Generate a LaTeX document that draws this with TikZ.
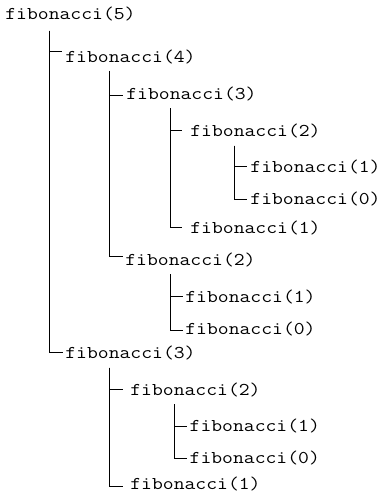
\documentclass[tikz,border=0pt]{standalone}
\usepackage{fontspec}
\newfontfamily\codefont[FakeStretch=1.17]{Latin Modern Mono}
\begin{document}
\begin{tikzpicture}[x=1bp,y=-1bp,
  call/.style={anchor=base west,inner sep=0pt,font=\fontsize{18bp}{20bp}\codefont},
  link/.style={draw=black,line width=0.9bp}]
\useasboundingbox (0,0) rectangle (383,494);

% call tree nodes
\node[call] (n5)    at (5.2,20)     {fibonacci(5)};
\node[call] (n4)    at (65.2,62.7)  {fibonacci(4)};
\node[call] (n43)   at (126.2,99.3) {fibonacci(3)};
\node[call] (n432)  at (190.2,136.7) {fibonacci(2)};
\node[call] (n4321) at (250.2,172.7) {fibonacci(1)};
\node[call] (n4320) at (250.2,204)  {fibonacci(0)};
\node[call] (n431)  at (190.2,233.3) {fibonacci(1)};
\node[call] (n42)   at (125.2,265)  {fibonacci(2)};
\node[call] (n421)  at (185.2,302.3) {fibonacci(1)};
\node[call] (n420)  at (185.2,334.3) {fibonacci(0)};
\node[call] (n3)    at (65.2,358.3) {fibonacci(3)};
\node[call] (n32)   at (130.2,395)  {fibonacci(2)};
\node[call] (n321)  at (189.5,431)  {fibonacci(1)};
\node[call] (n320)  at (189.5,463.3) {fibonacci(0)};
\node[call] (n31)   at (130.2,489.5) {fibonacci(1)};

% tops of the vertical branch lines
\coordinate (v5)   at (49.3,30.7);
\coordinate (v4)   at (109.3,71);
\coordinate (v43)  at (170,108.3);
\coordinate (v432) at (234.3,145.7);
\coordinate (v42)  at (170,274.3);
\coordinate (v3)   at (109.3,367.7);
\coordinate (v32)  at (174,404.3);

% ends of the horizontal ticks
\coordinate (t4)    at (61.7,51);
\coordinate (t3)    at (62.7,352.3);
\coordinate (t43)   at (123.3,95);
\coordinate (t42)   at (122.7,256);
\coordinate (t432)  at (181.7,130.7);
\coordinate (t431)  at (181.7,227.7);
\coordinate (t4321) at (246.7,166.7);
\coordinate (t4320) at (246.7,199.3);
\coordinate (t421)  at (182.7,296.7);
\coordinate (t420)  at (182.7,330);
\coordinate (t32)   at (123.3,389);
\coordinate (t31)   at (123.3,486.7);
\coordinate (t321)  at (186.7,426.7);
\coordinate (t320)  at (186.7,458.3);

% branches
\draw[link] (v5) |- (t4);
\draw[link] (v5) |- (t3);
\draw[link] (v4) |- (t43);
\draw[link] (v4) |- (t42);
\draw[link] (v43) |- (t432);
\draw[link] (v43) |- (t431);
\draw[link] (v432) |- (t4321);
\draw[link] (v432) |- (t4320);
\draw[link] (v42) |- (t421);
\draw[link] (v42) |- (t420);
\draw[link] (v3) |- (t32);
\draw[link] (v3) |- (t31);
\draw[link] (v32) |- (t321);
\draw[link] (v32) |- (t320);
\end{tikzpicture}
\end{document}
